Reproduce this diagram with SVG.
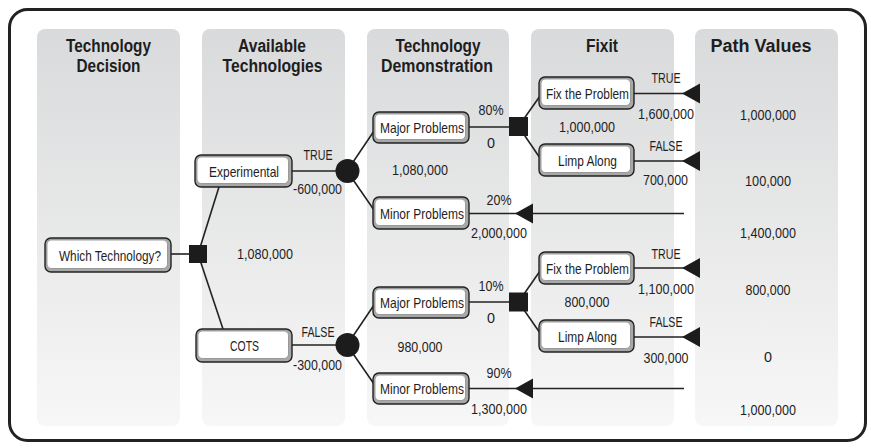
<svg xmlns="http://www.w3.org/2000/svg" width="871" height="448" viewBox="0 0 871 448">
<style>
.hd{font-family:"Liberation Sans",Arial,sans-serif;font-weight:bold;font-size:18px;fill:#1e1e1e;text-anchor:middle}
.t{font-family:"Liberation Sans",Arial,sans-serif;font-size:14.5px;fill:#1e1e1e;text-anchor:middle}
.ln{stroke:#222;stroke-width:1.6;fill:none}
.nb{fill:#a8a8a8;stroke:#222;stroke-width:1.4}
.ni{fill:#fff;stroke:#8a8a8a;stroke-width:0.8}
.blk{fill:#1c1c1c}
.pan{fill:url(#pg)}
</style>
<defs>
<linearGradient id="pg" x1="0" y1="0" x2="0" y2="1">
<stop offset="0" stop-color="#d9dadb"/>
<stop offset="1" stop-color="#f7f7f7"/>
</linearGradient>
</defs>
<rect x="0" y="0" width="871" height="448" fill="#fff"/>
<rect x="9.5" y="9.5" width="856" height="431" rx="18" fill="#fff" stroke="#222" stroke-width="3"/>
<g id="panels">
<rect class="pan" x="37" y="29" width="143" height="397" rx="8"/>
<rect class="pan" x="202" y="29" width="143" height="397" rx="8"/>
<rect class="pan" x="367" y="29" width="142" height="397" rx="8"/>
<rect class="pan" x="531" y="29" width="143" height="397" rx="8"/>
<rect class="pan" x="695" y="29" width="143" height="397" rx="8"/>
</g>
<g id="headers">
<text class="hd" x="108.5" y="52" textLength="85" lengthAdjust="spacingAndGlyphs">Technology</text>
<text class="hd" x="108.5" y="72" textLength="64" lengthAdjust="spacingAndGlyphs">Decision</text>
<text class="hd" x="272" y="52" textLength="68" lengthAdjust="spacingAndGlyphs">Available</text>
<text class="hd" x="272.5" y="72" textLength="100" lengthAdjust="spacingAndGlyphs">Technologies</text>
<text class="hd" x="438" y="52" textLength="85" lengthAdjust="spacingAndGlyphs">Technology</text>
<text class="hd" x="437" y="72" textLength="112" lengthAdjust="spacingAndGlyphs">Demonstration</text>
<text class="hd" x="602" y="52" textLength="32" lengthAdjust="spacingAndGlyphs">Fixit</text>
<text class="hd" x="761" y="52" textLength="101" lengthAdjust="spacingAndGlyphs">Path Values</text>
</g>
<g id="connectors">
<line class="ln" x1="171" y1="254" x2="198" y2="254"/>
<line class="ln" x1="198" y1="254" x2="219" y2="187"/>
<line class="ln" x1="198" y1="254" x2="223" y2="329"/>
<line class="ln" x1="292" y1="171" x2="347" y2="171"/>
<line class="ln" x1="347" y1="171" x2="374" y2="131"/>
<line class="ln" x1="347" y1="171" x2="374" y2="210"/>
<line class="ln" x1="469" y1="127" x2="518.5" y2="127"/>
<line class="ln" x1="518.5" y1="126.5" x2="540" y2="96"/>
<line class="ln" x1="518.5" y1="126.5" x2="540" y2="158"/>
<line class="ln" x1="634" y1="93.5" x2="684" y2="93.5"/>
<line class="ln" x1="634" y1="161" x2="684" y2="161"/>
<line class="ln" x1="469" y1="213.5" x2="684" y2="213.5"/>
<line class="ln" x1="292" y1="345" x2="347" y2="345"/>
<line class="ln" x1="347" y1="345" x2="374" y2="305"/>
<line class="ln" x1="347" y1="345" x2="374" y2="384"/>
<line class="ln" x1="469" y1="302" x2="518.5" y2="302"/>
<line class="ln" x1="518.5" y1="302" x2="540" y2="271"/>
<line class="ln" x1="518.5" y1="302" x2="540" y2="333"/>
<line class="ln" x1="634" y1="268" x2="684" y2="268"/>
<line class="ln" x1="634" y1="337" x2="684" y2="337"/>
<line class="ln" x1="469" y1="388.5" x2="684" y2="388.5"/>
<polygon class="blk" points="682,93.5 700,83.5 700,103.5"/>
<polygon class="blk" points="682,161 700,151 700,171"/>
<polygon class="blk" points="515,213.5 533,203.5 533,223.5"/>
<polygon class="blk" points="682,268 700,258 700,278"/>
<polygon class="blk" points="682,337 700,327 700,347"/>
<polygon class="blk" points="515,388.5 533,378.5 533,398.5"/>
</g>
<g id="decision-root"><rect class="blk" x="189" y="245" width="18" height="18"/></g>
<g id="chance-exp"><circle class="blk" cx="347.5" cy="171" r="12"/></g>
<g id="chance-cots"><circle class="blk" cx="347.5" cy="345" r="12"/></g>
<g id="decision-fix1"><rect class="blk" x="509" y="117" width="19" height="19"/></g>
<g id="decision-fix2"><rect class="blk" x="509" y="292.5" width="19" height="19"/></g>
<g id="n-which"><rect class="nb" x="45" y="238" width="126" height="34" rx="6"/><rect class="ni" x="47" y="240" width="120.5" height="28.5" rx="4.5"/><text class="t" x="110" y="261" textLength="102" lengthAdjust="spacingAndGlyphs">Which Technology?</text></g>
<g id="n-exp"><rect class="nb" x="195" y="155" width="97" height="32" rx="6"/><rect class="ni" x="197" y="157" width="91.5" height="26.5" rx="4.5"/><text class="t" x="244" y="177" textLength="70" lengthAdjust="spacingAndGlyphs">Experimental</text></g>
<g id="n-cots"><rect class="nb" x="196" y="329" width="96" height="33" rx="6"/><rect class="ni" x="198" y="331" width="90.5" height="27.5" rx="4.5"/><text class="t" x="244.5" y="351" textLength="29" lengthAdjust="spacingAndGlyphs">COTS</text></g>
<g id="n-major1"><rect class="nb" x="373" y="112" width="96" height="31" rx="6"/><rect class="ni" x="375" y="114" width="90.5" height="25.5" rx="4.5"/><text class="t" x="422" y="133" textLength="84" lengthAdjust="spacingAndGlyphs">Major Problems</text></g>
<g id="n-minor1"><rect class="nb" x="373" y="197" width="96" height="32" rx="6"/><rect class="ni" x="375" y="199" width="90.5" height="26.5" rx="4.5"/><text class="t" x="422" y="218.5" textLength="84" lengthAdjust="spacingAndGlyphs">Minor Problems</text></g>
<g id="n-major2"><rect class="nb" x="373" y="287" width="96" height="31" rx="6"/><rect class="ni" x="375" y="289" width="90.5" height="25.5" rx="4.5"/><text class="t" x="422" y="308" textLength="84" lengthAdjust="spacingAndGlyphs">Major Problems</text></g>
<g id="n-minor2"><rect class="nb" x="373" y="373" width="96" height="31" rx="6"/><rect class="ni" x="375" y="375" width="90.5" height="25.5" rx="4.5"/><text class="t" x="422" y="394" textLength="84" lengthAdjust="spacingAndGlyphs">Minor Problems</text></g>
<g id="n-fix1"><rect class="nb" x="539" y="77" width="95" height="32" rx="6"/><rect class="ni" x="541" y="79" width="89.5" height="26.5" rx="4.5"/><text class="t" x="587.5" y="99" textLength="83" lengthAdjust="spacingAndGlyphs">Fix the Problem</text></g>
<g id="n-limp1"><rect class="nb" x="539" y="144" width="95" height="32" rx="6"/><rect class="ni" x="541" y="146" width="89.5" height="26.5" rx="4.5"/><text class="t" x="587.5" y="166" textLength="59" lengthAdjust="spacingAndGlyphs">Limp Along</text></g>
<g id="n-fix2"><rect class="nb" x="539" y="252" width="95" height="32" rx="6"/><rect class="ni" x="541" y="254" width="89.5" height="26.5" rx="4.5"/><text class="t" x="587.5" y="274" textLength="83" lengthAdjust="spacingAndGlyphs">Fix the Problem</text></g>
<g id="n-limp2"><rect class="nb" x="539" y="320" width="95" height="32" rx="6"/><rect class="ni" x="541" y="322" width="89.5" height="26.5" rx="4.5"/><text class="t" x="587.5" y="342" textLength="59" lengthAdjust="spacingAndGlyphs">Limp Along</text></g>
<g id="labels">
<text class="t" x="318" y="160" textLength="29" lengthAdjust="spacingAndGlyphs">TRUE</text>
<text class="t" x="317.5" y="194" textLength="49" lengthAdjust="spacingAndGlyphs">-600,000</text>
<text class="t" x="420" y="175" textLength="56" lengthAdjust="spacingAndGlyphs">1,080,000</text>
<text class="t" x="265" y="259" textLength="56" lengthAdjust="spacingAndGlyphs">1,080,000</text>
<text class="t" x="318" y="337" textLength="33" lengthAdjust="spacingAndGlyphs">FALSE</text>
<text class="t" x="317.5" y="370" textLength="49" lengthAdjust="spacingAndGlyphs">-300,000</text>
<text class="t" x="420" y="352" textLength="45" lengthAdjust="spacingAndGlyphs">980,000</text>
<text class="t" x="491" y="115" textLength="25" lengthAdjust="spacingAndGlyphs">80%</text>
<text class="t" x="491" y="148" textLength="8" lengthAdjust="spacingAndGlyphs">0</text>
<text class="t" x="666" y="83" textLength="29" lengthAdjust="spacingAndGlyphs">TRUE</text>
<text class="t" x="666" y="119" textLength="56" lengthAdjust="spacingAndGlyphs">1,600,000</text>
<text class="t" x="587" y="132" textLength="56" lengthAdjust="spacingAndGlyphs">1,000,000</text>
<text class="t" x="666" y="151" textLength="33" lengthAdjust="spacingAndGlyphs">FALSE</text>
<text class="t" x="665.5" y="185" textLength="45" lengthAdjust="spacingAndGlyphs">700,000</text>
<text class="t" x="768" y="120" textLength="56" lengthAdjust="spacingAndGlyphs">1,000,000</text>
<text class="t" x="768" y="186" textLength="46" lengthAdjust="spacingAndGlyphs">100,000</text>
<text class="t" x="499" y="205" textLength="25" lengthAdjust="spacingAndGlyphs">20%</text>
<text class="t" x="499" y="238" textLength="56" lengthAdjust="spacingAndGlyphs">2,000,000</text>
<text class="t" x="768" y="238" textLength="56" lengthAdjust="spacingAndGlyphs">1,400,000</text>
<text class="t" x="491" y="291" textLength="25" lengthAdjust="spacingAndGlyphs">10%</text>
<text class="t" x="491" y="323" textLength="8" lengthAdjust="spacingAndGlyphs">0</text>
<text class="t" x="666" y="259" textLength="29" lengthAdjust="spacingAndGlyphs">TRUE</text>
<text class="t" x="666" y="294" textLength="56" lengthAdjust="spacingAndGlyphs">1,100,000</text>
<text class="t" x="587" y="307" textLength="45" lengthAdjust="spacingAndGlyphs">800,000</text>
<text class="t" x="666" y="327" textLength="33" lengthAdjust="spacingAndGlyphs">FALSE</text>
<text class="t" x="666" y="363" textLength="45" lengthAdjust="spacingAndGlyphs">300,000</text>
<text class="t" x="768" y="295" textLength="45" lengthAdjust="spacingAndGlyphs">800,000</text>
<text class="t" x="768" y="362" textLength="8" lengthAdjust="spacingAndGlyphs">0</text>
<text class="t" x="768" y="415" textLength="56" lengthAdjust="spacingAndGlyphs">1,000,000</text>
<text class="t" x="499" y="378" textLength="25" lengthAdjust="spacingAndGlyphs">90%</text>
<text class="t" x="499" y="414" textLength="56" lengthAdjust="spacingAndGlyphs">1,300,000</text>
</g>
</svg>
